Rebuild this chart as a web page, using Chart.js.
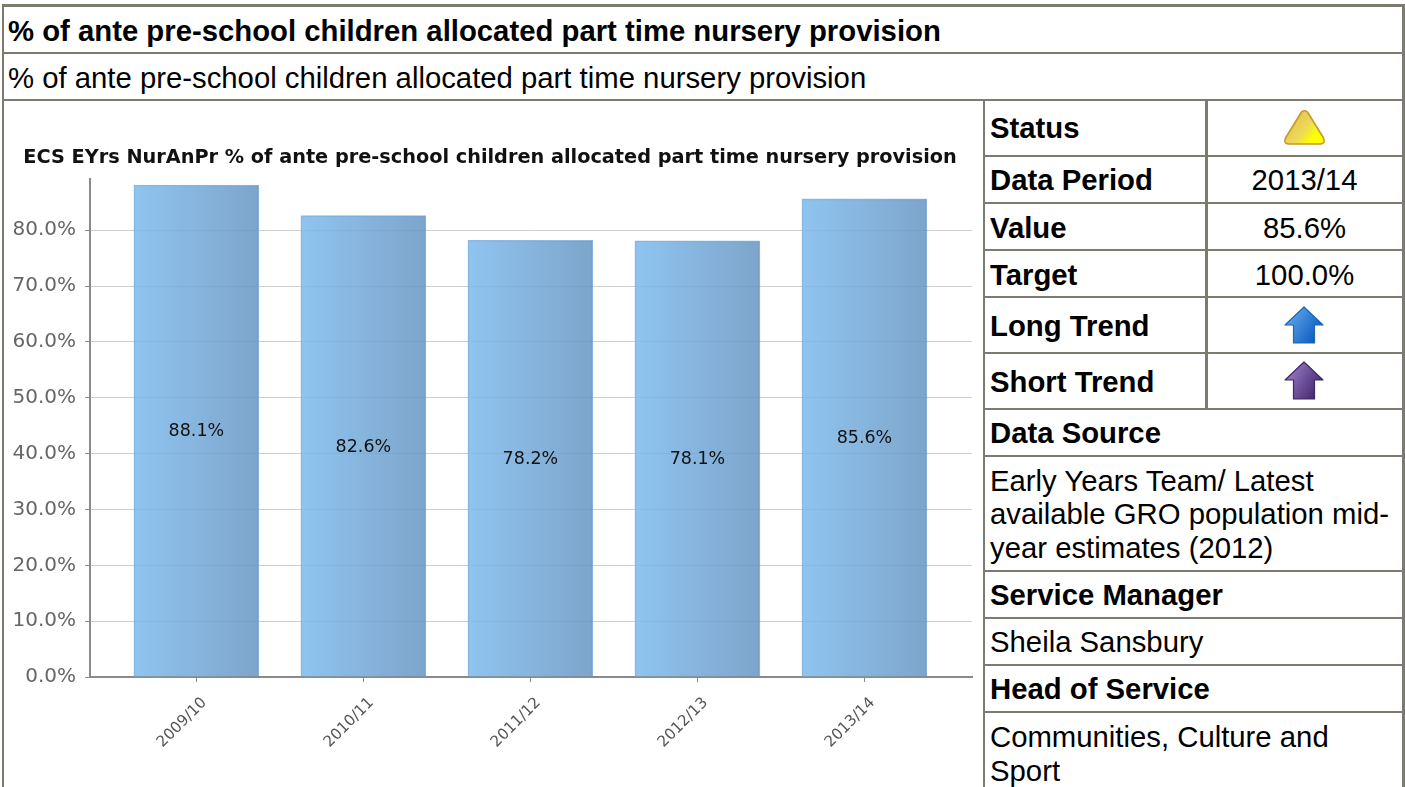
<!DOCTYPE html>
<html>
<head>
<meta charset="utf-8">
<title>% of ante pre-school children allocated part time nursery provision</title>
<script src="https://cdn.jsdelivr.net/npm/chart.js@4"></script>
<style>
	html, body { margin: 0; padding: 0; background: #fff; overflow: hidden; }
	body { position: relative; width: 1405px; height: 787px; font-family: "Liberation Sans", Arial, sans-serif; color: #000; }
	.line { position: absolute; background: #7b7b6f; }
	.txt { position: absolute; white-space: nowrap; font-size: 29.3px; line-height: 34px; }
	.txt.b { font-weight: bold; }
	.txt.c { width: 195px; left: 1207px; text-align: center; }
	.icon { position: absolute; }
	#chart-wrap { position: absolute; left: 4px; top: 101px; width: 976px; height: 686px; }
	#chart { filter: blur(0.45px); }
</style>
</head>
<body>
<div id="chart-wrap"><canvas id="chart"></canvas></div>

<svg class="icon" style="left:1283px;top:109px" width="43" height="37" viewBox="0 0 43 37">
	<defs><linearGradient id="amber" x1="0" y1="0" x2="1" y2="0.7"><stop offset="0" stop-color="#e0bc45"/><stop offset="0.6" stop-color="#eed858"/><stop offset="0.88" stop-color="#ffff00"/></linearGradient></defs>
	<path d="M18.5 3 Q21.5 0.5 24.5 3 L40.5 29 Q42.5 34.5 38 35 H5 Q0.5 34.5 2.5 29 Z" fill="url(#amber)" stroke="#c8982a" stroke-width="1.6" stroke-linejoin="round"/>
</svg>
<svg class="icon" style="left:1284px;top:306px" width="40" height="38" viewBox="0 0 40 38">
	<defs><linearGradient id="blue" x1="0" y1="0" x2="1" y2="0.6"><stop offset="0" stop-color="#6db4f2"/><stop offset="1" stop-color="#0d5cc0"/></linearGradient></defs>
	<path d="M20 1 L39 19 H30.5 V37 H9.5 V19 H1 Z" fill="url(#blue)" stroke="#1f64b4" stroke-width="1.2" stroke-linejoin="round"/>
</svg>
<svg class="icon" style="left:1284px;top:361px" width="40" height="39" viewBox="0 0 40 39">
	<defs><linearGradient id="purple" x1="0" y1="0" x2="1" y2="0.6"><stop offset="0" stop-color="#a58bd8"/><stop offset="1" stop-color="#47286f"/></linearGradient></defs>
	<path d="M20 1 L39 19 H30.5 V38 H9.5 V19 H1 Z" fill="url(#purple)" stroke="#3b2a5e" stroke-width="1.2" stroke-linejoin="round"/>
</svg>

<script>
(function() {
	'use strict';

	// Chart data
	const periods = ['2009/10', '2010/11', '2011/12', '2012/13', '2013/14'];
	const percentages = [88.1, 82.6, 78.2, 78.1, 85.6];
	const valueLabels = ['88.1%', '82.6%', '78.2%', '78.1%', '85.6%'];
	const chartTitle = 'ECS EYrs NurAnPr % of ante pre-school children allocated part time nursery provision';

	// Table frame: [left, top, width, height]
	const frameLines = [
		[2, 4, 1403, 3], [2, 52, 1400, 2], [2, 99, 1400, 2],
		[2, 4, 2, 783], [1402, 4, 3, 783], [983, 99, 2, 688], [1205, 101, 3, 308],
		[985, 155, 417, 2], [985, 202, 417, 2], [985, 249, 417, 2], [985, 296, 417, 2],
		[985, 352, 417, 2], [985, 408, 417, 2], [985, 455, 417, 2], [985, 570, 417, 2],
		[985, 617, 417, 2], [985, 664, 417, 2], [985, 711, 417, 2]
	];

	// Table text: [text, left, top, bold]
	const tableText = [
		['% of ante pre-school children allocated part time nursery provision', 8, 14, true],
		['% of ante pre-school children allocated part time nursery provision', 8, 61, false],
		['Status', 990, 111, true],
		['Data Period', 990, 163, true],
		['Value', 990, 211, true],
		['Target', 990, 258, true],
		['Long Trend', 990, 309, true],
		['Short Trend', 990, 365, true],
		['Data Source', 990, 416, true],
		['Early Years Team/ Latest', 990, 464, false],
		['available GRO population mid-', 990, 497, false],
		['year estimates (2012)', 990, 531, false],
		['Service Manager', 990, 578, true],
		['Sheila Sansbury', 990, 625, false],
		['Head of Service', 990, 672, true],
		['Communities, Culture and', 990, 720, false],
		['Sport', 990, 754, false]
	];
	const tableValues = [['2013/14', 163], ['85.6%', 211], ['100.0%', 258]];

	frameLines.forEach(function(l) {
		const d = document.createElement('div');
		d.className = 'line';
		d.style.cssText = `left:${l[0]}px;top:${l[1]}px;width:${l[2]}px;height:${l[3]}px`;
		document.body.appendChild(d);
	});
	tableText.forEach(function(t) {
		const d = document.createElement('div');
		d.className = t[3] ? 'txt b' : 'txt';
		d.style.left = t[1] + 'px';
		d.style.top = t[2] + 'px';
		d.textContent = t[0];
		document.body.appendChild(d);
	});
	tableValues.forEach(function(t) {
		const d = document.createElement('div');
		d.className = 'txt c';
		d.style.top = t[1] + 'px';
		d.textContent = t[0];
		document.body.appendChild(d);
	});

	// Each bar shades from light blue on the left to a duller blue on the right
	function barGradient(context) {
		const xScale = context.chart.scales.x;
		if (!xScale || context.dataIndex === undefined) return '#8fc4f0';
		const mid = xScale.getPixelForValue(context.dataIndex);
		if (!isFinite(mid)) return '#8fc4f0';
		const g = context.chart.ctx.createLinearGradient(mid - 62, 0, mid + 62, 0);
		g.addColorStop(0, 'rgba(123, 186, 237, 0.85)');
		g.addColorStop(1, 'rgba(103, 149, 194, 0.85)');
		return g;
	}

	// Value labels sit in the middle of each bar
	const barLabels = {
		id: 'barLabels',
		afterDatasetsDraw(chart) {
			const ctx = chart.ctx;
			ctx.save();
			ctx.font = '17.5px "DejaVu Sans"';
			ctx.fillStyle = '#111';
			ctx.textAlign = 'center';
			ctx.textBaseline = 'middle';
			chart.getDatasetMeta(0).data.forEach(function(bar, i) {
				const p = bar.getCenterPoint();
				ctx.fillText(valueLabels[i], p.x, p.y + 1);
			});
			ctx.restore();
		}
	};

	new Chart(document.getElementById('chart'), {
		type: 'bar',
		data: {
			datasets: [{
				data: periods.map((p, i) => ({x: i, y: percentages[i]})),
				backgroundColor: barGradient,
				borderColor: 'rgba(96, 155, 212, 0.7)',
				borderWidth: 1,
				barThickness: 125
			}]
		},
		options: {
			responsive: true,
			maintainAspectRatio: false,
			animation: false,
			layout: {padding: {top: 0, right: 8, bottom: 0, left: 4}},
			plugins: {
				legend: {display: false},
				tooltip: {enabled: false},
				title: {
					display: true,
					text: chartTitle,
					color: '#111',
					font: {family: '"DejaVu Sans"', size: 19.3, weight: 'bold'},
					padding: {top: 45, bottom: 10}
				}
			},
			scales: {
				x: {
					type: 'linear',
					offset: false,
					min: -0.637,
					max: 4.644,
					afterBuildTicks(axis) {
						axis.ticks = periods.map((p, i) => ({value: i}));
					},
					afterFit(axis) {
						axis.height = 110;
					},
					border: {color: '#8a8a8a', width: 2},
					grid: {offset: false, drawOnChartArea: false, color: '#8a8a8a', tickLength: 5},
					ticks: {
						autoSkip: false,
						minRotation: 45,
						maxRotation: 45,
						color: '#555',
						padding: 12,
						labelOffset: 8,
						font: {family: '"DejaVu Sans"', size: 15.2},
						callback: value => periods[value]
					}
				},
				y: {
					min: 0,
					max: 89.14,
					afterBuildTicks(axis) {
						axis.ticks = axis.ticks.filter(t => t.value % 10 === 0);
					},
					afterFit(axis) {
						axis.width = 82;
					},
					border: {color: '#8a8a8a', width: 2},
					grid: {color: '#cfcfcf', tickColor: '#8a8a8a', tickLength: 5},
					ticks: {
						stepSize: 10,
						color: '#666',
						padding: 9,
						font: {family: '"DejaVu Sans"', size: 20},
						callback: value => value.toFixed(1) + '%'
					}
				}
			}
		},
		plugins: [barLabels]
	});
})();
</script>
</body>
</html>
